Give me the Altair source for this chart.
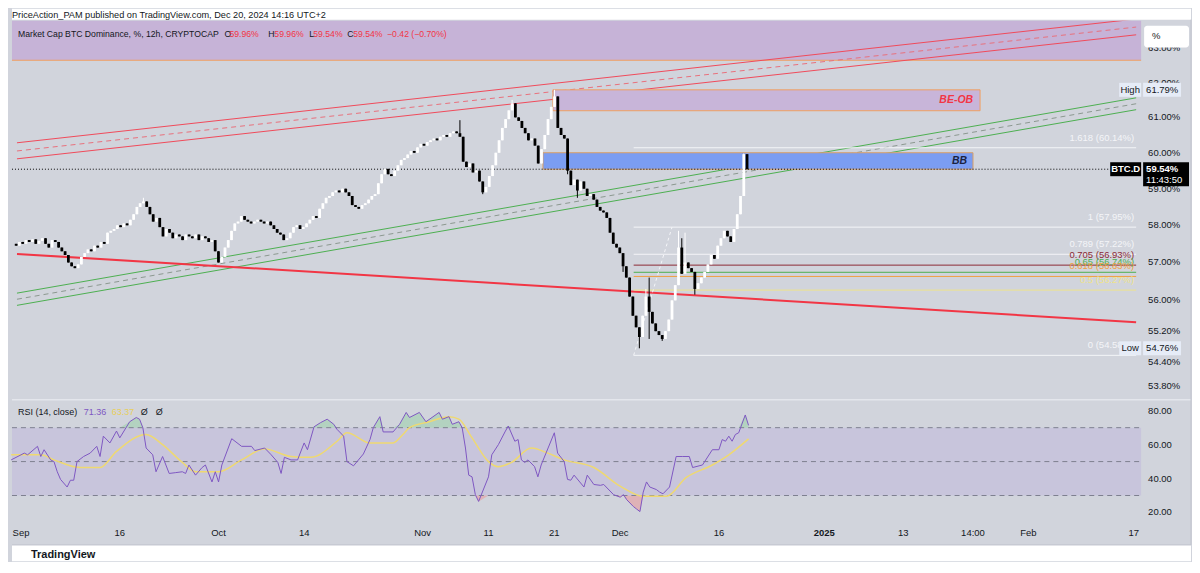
import altair as alt
import pandas as pd

# ---------------- data ----------------
# 12h candle closes, first candle opens Aug 30 2024 12:00 UTC
closes = [
    57.45, 57.55, 57.50, 57.60, 57.55, 57.62, 57.50, 57.58, 57.65, 57.50, 57.40, 57.60, 57.55, 57.40,
    57.30, 57.20, 57.00, 56.90, 56.85, 56.95,
    57.15, 57.25, 57.35, 57.30, 57.45, 57.40, 57.55, 57.50,
    57.80, 57.85, 57.90, 58.00, 57.95, 58.05, 58.00, 58.15,
    58.30, 58.50, 58.60, 58.65, 58.50,
    58.30, 58.10, 58.20, 57.95, 57.70, 57.90, 57.80,
    57.65, 57.75, 57.70, 57.60, 57.75, 57.70, 57.65, 57.75, 57.60, 57.70, 57.65,
    57.55, 57.60, 57.30, 57.00, 57.15,
    57.40, 57.60, 57.85, 58.05, 58.10,
    58.25, 58.15, 58.10, 58.05, 58.10, 58.15, 58.10, 58.05, 58.10, 58.00, 57.90,
    57.80, 57.75, 57.60, 57.65,
    57.80, 57.95, 58.00, 57.90, 57.95,
    58.05, 58.15, 58.25, 58.20,
    58.45, 58.60, 58.75, 58.80, 58.90, 58.95,
    58.90, 59.00, 58.90,
    58.80, 58.55, 58.50, 58.45,
    58.55, 58.60, 58.70, 58.80, 58.85,
    59.15, 59.40, 59.55, 59.40, 59.35,
    59.50, 59.65, 59.80, 59.85, 59.95, 60.05,
    60.00, 60.15, 60.25, 60.20, 60.30, 60.35,
    60.40, 60.35, 60.45, 60.50, 60.45, 60.55, 60.60, 60.55,
    60.45, 59.75,
    59.60, 59.70, 59.45, 59.50,
    59.20, 58.90,
    59.05, 59.35, 59.65, 60.00, 60.35, 60.70,
    60.95, 61.20, 61.40,
    61.00, 60.90, 60.70,
    60.55, 60.35, 60.40, 60.20, 59.70,
    60.10, 60.50, 60.95, 61.30, 61.60,
    60.70, 60.50, 60.40, 59.50,
    59.10, 59.25, 58.95,
    59.20, 59.00, 58.80, 58.85,
    58.70, 58.50, 58.40, 58.35,
    58.20, 57.80, 57.50,
    57.40, 57.25, 56.90, 56.60, 56.10, 55.60, 55.30, 55.05, 55.60, 56.10, 55.70,
    55.40, 55.20, 55.10, 55.00,
    55.20, 55.50, 56.00, 56.40, 57.40,
    56.70, 57.00, 56.85, 56.75, 56.30,
    56.45, 56.60, 56.75, 56.95,
    57.20, 57.10, 57.45,
    57.65, 57.85, 57.70, 57.55, 57.90,
    58.30, 58.80, 59.96, 59.54,
]
first_open = 57.50
wick_high = {39: 58.75, 136: 60.92, 152: 61.50, 165: 61.79, 193: 56.30, 194: 56.60,
             203: 57.85, 204: 57.65, 205: 57.80, 223: 59.98}
wick_low = {143: 58.85, 169: 59.40, 172: 58.75, 186: 56.75, 191: 54.76, 194: 55.00,
            198: 54.95, 208: 56.15}

rsi_idx = [0, 4, 5, 8, 9, 10, 12, 13, 14, 15, 17, 18, 19, 20, 22, 24, 26, 27, 28, 30,
           32, 33, 36, 38, 39, 40, 41, 43, 44, 46, 48, 50, 52, 53, 54, 56, 58, 59, 61, 62,
           63, 64, 67, 70, 73, 74, 77, 79, 81, 82, 83, 85, 87, 89, 90, 92, 94, 96, 98, 99,
           101, 102, 104, 107, 109, 110, 112, 113, 116, 118, 120, 121, 124, 126, 130, 131, 133, 134, 136, 137,
           138, 139, 140, 141, 142, 145, 146, 148, 150, 151, 153, 154, 155, 156, 157, 159, 160, 161, 165, 166,
           168, 169, 170, 171, 174, 175, 177, 179, 180, 183, 185, 186, 187, 189, 190, 191, 192, 193, 194, 196,
           197, 198, 200, 202, 204, 206, 207, 210, 213, 215, 216, 217, 218, 219, 220, 221, 223, 224]
rsi_val = [51, 55, 54, 59, 53, 57, 51, 50, 44, 39.5, 35, 39, 39, 50, 53, 55, 59, 53, 65, 61,
           68, 64, 73.5, 76, 75, 70, 58, 54, 44, 53, 43, 43.5, 44, 43, 48, 42, 46.5, 48, 38, 44,
           38, 48, 63.5, 59, 59, 56.5, 58, 54, 49.5, 43, 52.5, 51, 51, 61, 57, 70.5, 73, 75, 72, 69,
           65, 50, 47.5, 54.5, 63, 70, 76.5, 67.5, 67.5, 72, 79, 76, 79, 73.5, 79, 75, 76.5, 72, 73.5, 70,
           58, 42, 41, 30.5, 26.5, 41, 54, 60, 67.5, 71, 62, 63, 51, 49.5, 51, 47, 41, 48, 67, 55,
           50, 39.5, 39, 42, 35, 42, 36.5, 36, 36.5, 30.5, 29, 30.5, 27.5, 23.5, 22, 20.5, 32, 38, 35, 33.5,
           32, 31, 35, 53, 53, 53, 46.5, 48, 57, 57, 63, 62, 65, 62, 66, 67, 77.5, 71.36]
sig_idx = [0, 9, 13, 21, 27, 32, 41, 46, 52, 56, 63, 70, 77, 85, 91, 99, 102, 109, 116, 119,
           121, 127, 133, 136, 140, 145, 148, 152, 158, 163, 168, 177, 185, 192, 199, 205, 213, 218, 224]
sig_val = [54, 54, 51, 46.5, 46.5, 56, 66, 60, 49.5, 44, 44, 51, 57.5, 53, 52.5, 62, 67, 61, 61, 66,
           70, 73.5, 76.5, 75, 64, 50, 47, 49.5, 58, 55, 51, 46.5, 35.5, 29.5, 29.5, 40.5, 48, 54, 63.37]

fib_ratio = ["1.618", "1", "0.789", "0.705", "0.65", "0.618", "0.5", "0"]
fib_price = [60.14, 57.95, 57.22, 56.93, 56.74, 56.63, 56.27, 54.58]
fib_color = ["#f4f5f8", "#f4f5f8", "#f4f5f8", "#8c2a35", "#4caf50", "#f0a040", "#efe38a", "#f4f5f8"]
fib_start = "2024-12-03T03:00:00Z"
fib_diag_end = "2024-12-09T00:00:00Z"

# drawn trend lines: prices at the left / right chart edges
t_left = "2024-08-30T15:00:00Z"
t_right = "2025-02-18T03:00:00Z"
red_ch_left = [60.28, 59.83]
red_ch_right = [63.87, 63.40]
red_mid = [60.05, 63.63]
green_ch_left = [56.19, 55.87]
green_ch_right = [61.56, 61.22]
green_mid = [56.03, 61.39]
support_line = [57.23, 55.43]

supply_low = 62.65
beob = {"t1": "2024-11-20T18:00:00Z", "t2": "2025-01-25T05:00:00Z", "p1": 61.19, "p2": 61.79}
bb = {"t1": "2024-11-19T05:30:00Z", "t2": "2025-01-24T03:00:00Z", "p1": 59.54, "p2": 60.00}

last_price = 59.54
high_price = 61.79
low_price = 54.76

price_ticks = [63, 62, 61, 60, 59, 58, 57, 56, 55.2, 54.4, 53.8]
rsi_ticks = [80, 60, 40, 20]
rsi_bands = [70, 50, 30]
x_tick_dates = ["2024-09-01", "2024-09-16", "2024-10-01", "2024-10-14", "2024-11-01", "2024-11-11",
                "2024-11-21", "2024-12-01", "2024-12-16", "2025-01-01", "2025-01-13",
                "2025-01-23T14:00", "2025-02-01", "2025-02-17"]
x_tick_labels = ["Sep", "16", "Oct", "14", "Nov", "11", "21", "Dec", "16", "2025", "13", "14:00", "Feb", "17"]

# ---------------- styling ----------------
FONT = "Liberation Sans"
BG = "#d1d4dc"
TXT = "#131722"
RED = "#f23645"
W, H1, H2 = 1132, 380, 120
FS = 9.5

t0 = pd.Timestamp("2024-08-30 12:00", tz="UTC")


def tstr(k):
    return (t0 + pd.Timedelta(hours=12 * k)).strftime("%Y-%m-%dT%H:%M:%SZ")


opens = [first_open] + closes[:-1]
rows = []
for k, (o, c) in enumerate(zip(opens, closes)):
    hi = max(wick_high.get(k, max(o, c)), max(o, c))
    lo = min(wick_low.get(k, min(o, c)), min(o, c))
    rows.append({"t": tstr(k), "o": o, "c": c, "h": hi, "l": lo,
                 "col": "#ffffff" if c >= o else "#000000"})
candles = pd.DataFrame(rows)

rsi_df = pd.DataFrame({"t": [tstr(k) for k in rsi_idx], "v": rsi_val})
sig_df = pd.DataFrame({"t": [tstr(k) for k in sig_idx], "v": sig_val})

xs = alt.Scale(type="utc", domain=[alt.DateTime(year=2024, month=8, date=30, hours=15, utc=True),
                                   alt.DateTime(year=2025, month=2, date=18, hours=3, utc=True)])
ys = alt.Scale(type="log", domain=[53.46, 63.82], nice=False, zero=False)
rs = alt.Scale(domain=[15.9, 86.5], nice=False, zero=False)

X = lambda f: alt.X(f, scale=xs, axis=None)
Y = lambda f: alt.Y(f, scale=ys, axis=None)
R = lambda f: alt.Y(f, scale=rs, axis=None)
one = pd.DataFrame({"a": [0]})


def ptext(s, x, y, color=TXT, size=9, align="left", **kw):
    return alt.Chart(pd.DataFrame({"s": [s]})).mark_text(
        align=align, baseline="middle", color=color, fontSize=size, font=FONT, **kw
    ).encode(x=alt.value(x), y=alt.value(y), text="s:N")


def prect(x1, x2, y1, y2, color, **kw):
    return alt.Chart(one).mark_rect(color=color, **kw).encode(
        x=alt.value(x1), x2=alt.value(x2), y=alt.value(y1), y2=alt.value(y2))


def vline(x, y1, y2, color="#c2c5cf"):
    return alt.Chart(one).mark_rule(color=color, strokeWidth=1).encode(
        x=alt.value(x), y=alt.value(y1), y2=alt.value(y2))


# ---- price panel layers ----
layers = []
layers.append(prect(0, 1182, -12, -1, "#ffffff"))
layers.append(ptext("PriceAction_PAM published on TradingView.com, Dec 20, 2024 14:16 UTC+2", 0, -6, size=9.2))

supply = pd.DataFrame({"p": [supply_low]})
layers.append(alt.Chart(supply).mark_rect(color="#c6b3d7").encode(
    y=Y("p:Q"), y2=alt.value(0), x=alt.value(0), x2=alt.value(W)))
layers.append(alt.Chart(supply).mark_rule(color="#f0a060", strokeWidth=1).encode(
    y=Y("p:Q"), x=alt.value(0), x2=alt.value(W)))


def trend(lefts, rights):
    return pd.DataFrame({"t1": [t_left] * len(lefts), "t2": [t_right] * len(lefts),
                         "p1": lefts, "p2": rights})


red_solid = trend(red_ch_left, red_ch_right)
red_dash = trend([red_mid[0]], [red_mid[1]])
green_solid = trend(green_ch_left, green_ch_right)
green_dash = trend([green_mid[0]], [green_mid[1]])
support = trend([support_line[0]], [support_line[1]])


def rule_layer(df, color, width=1, dash=None):
    kw = dict(color=color, strokeWidth=width, clip=True)
    if dash:
        kw["strokeDash"] = dash
    return alt.Chart(df).mark_rule(**kw).encode(
        x=X("t1:T"), x2="t2:T", y=Y("p1:Q"), y2="p2:Q")


layers.append(rule_layer(red_solid, "#f04a5a", 1))
layers.append(rule_layer(red_dash, "#e8707c", 1, [5, 4]))
layers.append(rule_layer(green_solid, "#4caf50", 1))
layers.append(rule_layer(green_dash, "#8c9890", 1, [5, 4]))
layers.append(rule_layer(support, RED, 2))

# boxes
beob_df = pd.DataFrame([dict(beob, pm=(beob["p1"] + beob["p2"]) / 2, s="BE-OB")])
layers.append(alt.Chart(beob_df).mark_rect(fill="#c8b5d9", stroke="#f0a060", strokeWidth=1).encode(
    x=X("t1:T"), x2="t2:T", y=Y("p1:Q"), y2="p2:Q"))
layers.append(alt.Chart(beob_df).mark_text(align="right", baseline="middle", dx=-7, color=RED,
                                          fontSize=10.5, fontStyle="italic", fontWeight="bold",
                                          font=FONT).encode(x=X("t2:T"), y=Y("pm:Q"), text="s:N"))
bb_df = pd.DataFrame([dict(bb, pm=(bb["p1"] + bb["p2"]) / 2, s="BB")])
layers.append(alt.Chart(bb_df).mark_rect(fill="#7b9df2", stroke="#d9a066", strokeWidth=1).encode(
    x=X("t1:T"), x2="t2:T", y=Y("p1:Q"), y2="p2:Q"))
layers.append(alt.Chart(bb_df).mark_text(align="right", baseline="middle", dx=-6, color="#1a2240",
                                        fontSize=10.5, fontStyle="italic", fontWeight="bold",
                                        font=FONT).encode(x=X("t2:T"), y=Y("pm:Q"), text="s:N"))

# fib retracement
fib_df = pd.DataFrame({"p": fib_price, "col": fib_color,
                       "t1": [fib_start] * len(fib_price), "t2": [t_right] * len(fib_price),
                       "s": [f"{r} ({p:.2f}%)" for r, p in zip(fib_ratio, fib_price)]})
layers.append(alt.Chart(fib_df).mark_rule(strokeWidth=1).encode(
    x=X("t1:T"), x2="t2:T", y=Y("p:Q"), color=alt.Color("col:N", scale=None)))
layers.append(alt.Chart(fib_df).mark_text(align="right", baseline="middle", dy=-10, fontSize=FS,
                                         font=FONT).encode(
    x=alt.value(1125), y=Y("p:Q"), text="s:N", color=alt.Color("col:N", scale=None)))
diag = pd.DataFrame({"t1": [fib_start], "t2": [fib_diag_end], "p1": [fib_price[-1]], "p2": [fib_price[1]]})
layers.append(rule_layer(diag, "#f4f5f8", 1, [3, 3]))

# last price dotted line
lp = pd.DataFrame({"p": [last_price]})
layers.append(alt.Chart(lp).mark_rule(color="#000000", strokeWidth=1, strokeDash=[1, 2]).encode(
    y=Y("p:Q"), x=alt.value(0), x2=alt.value(1100)))

# candles
layers.append(alt.Chart(candles).mark_rule(strokeWidth=1).encode(
    x=X("t:T"), y=Y("l:Q"), y2="h:Q", color=alt.Color("col:N", scale=None)))
layers.append(alt.Chart(candles).mark_bar(size=2.8).encode(
    x=X("t:T"), y=Y("o:Q"), y2="c:Q", color=alt.Color("col:N", scale=None)))

# price scale labels (right)
pt_df = pd.DataFrame({"p": price_ticks, "s": [f"{v:.2f}%" for v in price_ticks]})
layers.append(alt.Chart(pt_df).mark_text(align="left", baseline="middle", fontSize=FS, font=FONT,
                                        color=TXT).encode(x=alt.value(1139), y=Y("p:Q"), text="s:N"))

# legend header
layers.append(ptext("Market Cap BTC Dominance, %, 12h, CRYPTOCAP", 6, 13, size=8.7))
for lab, lx, val, vx in [("O", 213, "59.96%", 218), ("H", 257, "59.96%", 263),
                         ("L", 298, "59.54%", 302), ("C", 336, "59.54%", 342)]:
    layers.append(ptext(lab, lx, 13, size=8.7))
    layers.append(ptext(val, vx, 13, color=RED, size=8.7))
layers.append(ptext("\u22120.42 (\u22120.70%)", 376, 13, color=RED, size=8.7))

# right-hand price scale badges
layers.append(prect(1135, 1180, 5, 27, "#ffffff", cornerRadius=3))
layers.append(ptext("%", 1143, 15, size=FS))


def badge(price, x1, x2, fill, up=-7, down=7):
    return alt.Chart(pd.DataFrame({"p": [price]})).mark_rect(
        color=fill, yOffset=up, y2Offset=down).encode(
        x=alt.value(x1), x2=alt.value(x2), y=Y("p:Q"), y2="p:Q")


def btext(price, s, x, color=TXT, dy=0, align="left", weight="normal"):
    return alt.Chart(pd.DataFrame({"p": [price], "s": [s]})).mark_text(
        align=align, baseline="middle", dy=dy, color=color, fontSize=FS, font=FONT,
        fontWeight=weight).encode(x=alt.value(x), y=Y("p:Q"), text="s:N")


layers.append(badge(high_price, 1110, 1132, "#e6ecf7"))
layers.append(badge(high_price, 1134, 1172, "#e6ecf7"))
layers.append(btext(high_price, "High", 1121, align="center"))
layers.append(btext(high_price, f"{high_price:.2f}%", 1137))
layers.append(badge(low_price, 1110, 1132, "#e6ecf7"))
layers.append(badge(low_price, 1134, 1172, "#e6ecf7"))
layers.append(btext(low_price, "Low", 1121, align="center"))
layers.append(btext(low_price, f"{low_price:.2f}%", 1137))
layers.append(badge(last_price, 1101, 1132, "#000000"))
layers.append(badge(last_price, 1134, 1180, "#000000", up=-7, down=17))
layers.append(btext(last_price, "BTC.D", 1116.5, color="#ffffff", align="center", weight="bold"))
layers.append(btext(last_price, f"{last_price:.2f}%", 1137, color="#ffffff", weight="bold"))
layers.append(btext(last_price, "11:43:50", 1137, color="#ffffff", dy=11))

# frame / pane separators
layers.append(alt.Chart(one).mark_rule(color="#e4e6ec", strokeWidth=1.5).encode(
    x=alt.value(0), x2=alt.value(1182), y=alt.value(H1)))
layers.append(vline(1182, -1, H1))

price = alt.layer(*layers).properties(width=W, height=H1)

# ---- RSI panel ----
rl = []
band = pd.DataFrame({"lo": [30], "hi": [70]})
rl.append(alt.Chart(band).mark_rect(color="#c8c5dc").encode(
    y=R("lo:Q"), y2="hi:Q", x=alt.value(0), x2=alt.value(W)))
# overbought / oversold fills
rl.append(alt.Chart(rsi_df).transform_calculate(top="max(datum.v, 70)", base="70").mark_area(
    color="#8fd19e", opacity=0.45).encode(x=X("t:T"), y=R("top:Q"), y2="base:Q"))
rl.append(alt.Chart(rsi_df).transform_calculate(bot="min(datum.v, 30)", base="30").mark_area(
    color="#ef8a8a", opacity=0.45).encode(x=X("t:T"), y=R("bot:Q"), y2="base:Q"))
rl.append(alt.Chart(pd.DataFrame({"b": rsi_bands})).mark_rule(
    color="#7d8090", strokeWidth=1, strokeDash=[5, 4]).encode(
    y=R("b:Q"), x=alt.value(0), x2=alt.value(W)))
rl.append(alt.Chart(sig_df).mark_line(color="#efd970", strokeWidth=1.5, interpolate="monotone").encode(
    x=X("t:T"), y=R("v:Q")))
rl.append(alt.Chart(rsi_df).mark_line(color="#7e57c2", strokeWidth=1).encode(
    x=X("t:T"), y=R("v:Q")))
rl.append(ptext("RSI (14, close)", 6, 12))
rl.append(ptext("71.36", 72, 12, color="#7e57c2"))
rl.append(ptext("63.37", 100, 12, color="#e8cf5a"))
rl.append(ptext("\u00d8", 129, 12))
rl.append(ptext("\u00d8", 144, 12))

# RSI scale labels
rt_df = pd.DataFrame({"v": rsi_ticks, "s": [f"{v:.2f}" for v in rsi_ticks]})
rl.append(alt.Chart(rt_df).mark_text(align="left", baseline="middle", fontSize=FS, font=FONT,
                                     color=TXT).encode(x=alt.value(1139), y=R("v:Q"), text="s:N"))

# time scale labels
xt_df = pd.DataFrame({"t": x_tick_dates, "s": x_tick_labels,
                      "b": [lab.isdigit() and len(lab) == 4 for lab in x_tick_labels]})
rl.append(alt.Chart(xt_df[~xt_df["b"]]).mark_text(align="center", baseline="middle", fontSize=FS,
                                                  font=FONT, color=TXT).encode(
    x=X("t:T"), y=alt.value(134), text="s:N"))
rl.append(alt.Chart(xt_df[xt_df["b"]]).mark_text(align="center", baseline="middle", fontSize=FS,
                                                 font=FONT, color=TXT, fontWeight="bold").encode(
    x=X("t:T"), y=alt.value(134), text="s:N"))

rl.append(prect(0, 1182, 146, 162, "#ffffff"))
rl.append(alt.Chart(one).mark_rule(color="#c2c5cf", strokeWidth=1).encode(
    x=alt.value(0), x2=alt.value(1182), y=alt.value(145.5)))
rl.append(vline(1182, 0, 145.5))
rl.append(ptext("TradingView", 19, 156, size=11, fontWeight="bold"))

rsi = alt.layer(*rl).properties(width=W, height=H2)

chart = alt.vconcat(price, rsi, spacing=0, bounds="flush").properties(
    background=BG, padding=0
).configure(font=FONT).configure_view(strokeWidth=0)

chart.save("out.html", embed_options={"renderer": "svg", "actions": False})
